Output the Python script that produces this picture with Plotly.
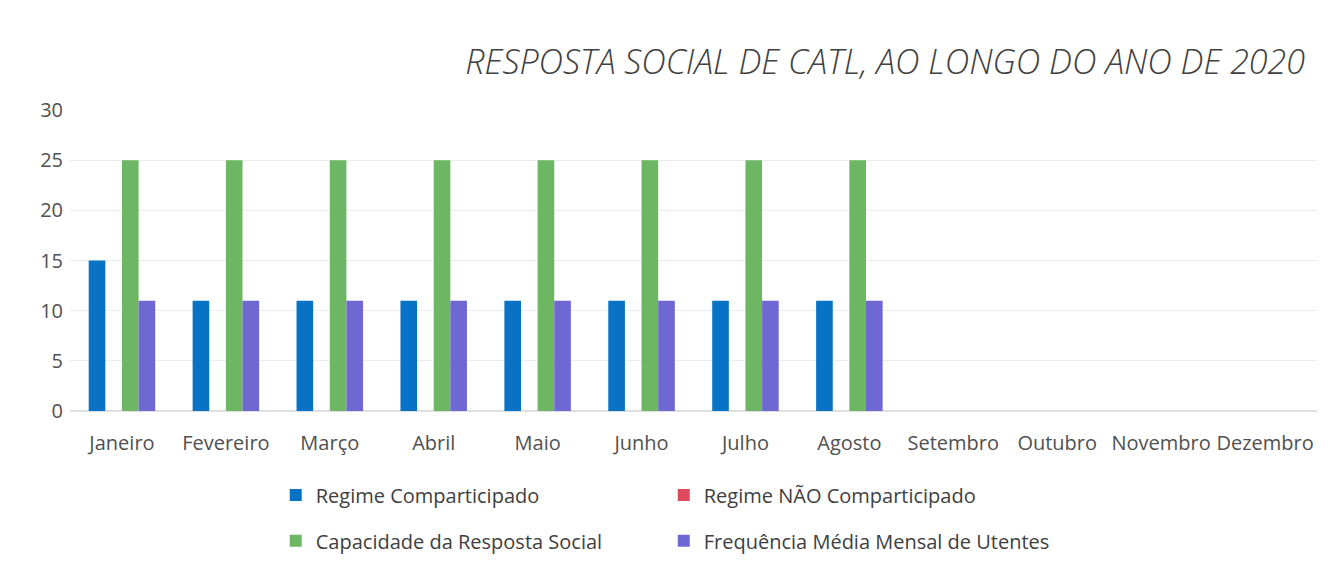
import plotly.graph_objects as go

months = ["Janeiro", "Fevereiro", "Março", "Abril", "Maio", "Junho", "Julho",
          "Agosto", "Setembro", "Outubro", "Novembro", "Dezembro"]
comparticipado = [15, 11, 11, 11, 11, 11, 11, 11, None, None, None, None]
nao_comparticipado = [0, 0, 0, 0, 0, 0, 0, 0, None, None, None, None]
capacidade = [25, 25, 25, 25, 25, 25, 25, 25, None, None, None, None]
frequencia = [11, 11, 11, 11, 11, 11, 11, 11, None, None, None, None]

series = [
    ("Regime Comparticipado", comparticipado, "#0873c4", "legend"),
    ("Regime NÃO Comparticipado", nao_comparticipado, "#de4b5c", "legend"),
    ("Capacidade da Resposta Social", capacidade, "#6db663", "legend2"),
    ("Frequência Média Mensal de Utentes", frequencia, "#6f68d2", "legend2"),
]

fig = go.Figure()
for name, vals, color, leg in series:
    fig.add_trace(go.Bar(x=months, y=vals, name=name, marker_color=color,
                         marker_line_width=0, legend=leg))

font = "Open Sans, Noto Sans, sans-serif"
legend_common = dict(orientation="h", x=0.165, xanchor="left", yanchor="middle",
                     yref="container", entrywidth=343, entrywidthmode="pixels",
                     font=dict(family=font, size=20, color="#404040"),
                     bgcolor="rgba(0,0,0,0)", itemclick=False)

fig.update_layout(
    width=1333, height=571,
    paper_bgcolor="white", plot_bgcolor="white",
    margin=dict(l=62, r=24, t=102, b=168, autoexpand=False),
    barmode="group", bargap=0.36, bargroupgap=0,
    title=dict(text="<i>RESPOSTA SOCIAL DE CATL, AO LONGO DO ANO DE 2020</i>",
               x=0.973, xanchor="right", y=0.905, yanchor="middle",
               font=dict(family=font, size=34, color="#404040", weight=300)),
    xaxis=dict(showgrid=False, showline=False, ticks="", ticklabelstandoff=18,
               tickangle=0,
               tickfont=dict(family=font, size=20, color="#505050")),
    yaxis=dict(range=[0, 30], dtick=5, showgrid=True, gridcolor="#ececec",
               zeroline=True, zerolinecolor="#e0e0e0", ticks="",
               ticklabelstandoff=6,
               tickfont=dict(family=font, size=20, color="#505050")),
    legend=dict(y=0.147, **legend_common),
    legend2=dict(y=0.067, **legend_common),
)

fig.write_html("out.html")
